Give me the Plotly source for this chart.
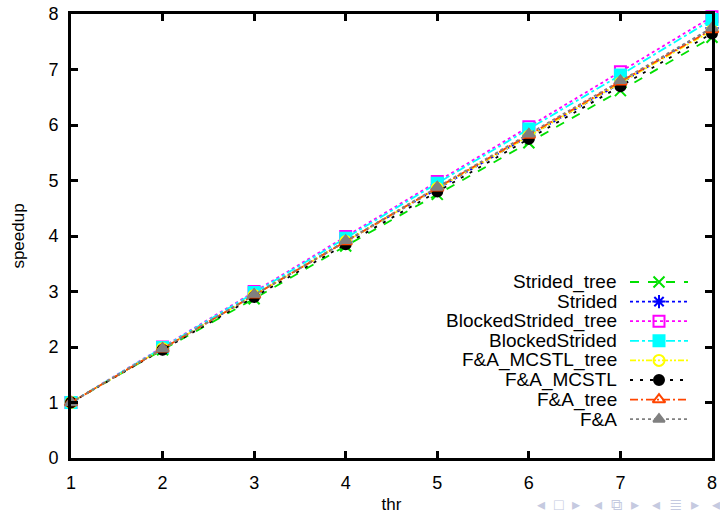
import plotly.graph_objects as go

thr = [1, 2, 3, 4, 5, 6, 7, 8]
names = ["Strided_tree", "Strided", "BlockedStrided_tree", "BlockedStrided",
         "F&A_MCSTL_tree", "F&A_MCSTL", "F&A_tree", "F&A"]
strided_tree = [1, 1.95, 2.87, 3.82, 4.75, 5.68, 6.62, 7.58]
strided = [1, 1.97, 2.93, 3.90, 4.85, 5.80, 6.75, 7.75]
blocked_tree = [1, 2.00, 3.00, 3.99, 4.98, 5.97, 6.96, 7.95]
blocked = [1, 1.99, 2.98, 3.96, 4.95, 5.93, 6.90, 7.90]
fa_mcstl_tree = [1, 1.97, 2.93, 3.90, 4.86, 5.80, 6.76, 7.70]
fa_mcstl = [1, 1.95, 2.90, 3.85, 4.80, 5.75, 6.70, 7.65]
fa_tree = [1, 1.97, 2.94, 3.90, 4.87, 5.82, 6.78, 7.72]
fa = [1, 1.97, 2.95, 3.92, 4.88, 5.84, 6.80, 7.75]
series = [strided_tree, strided, blocked_tree, blocked, fa_mcstl_tree, fa_mcstl, fa_tree, fa]

colors = ["#00e000", "#0000ff", "#ff00ff", "#00ffff", "#ffff00", "#000000", "#ff4500", "#808080"]
dashes = ["dash", "dot", "dot", "dashdot", "6px,2px,2px,2px,2px,2px", "3px,7px", "8px,3px,2px,3px", "dot"]
symbols = ["x-thin-open", "asterisk-open", "square-open", "square", "circle-open", "circle",
           "triangle-up-open", "triangle-up"]
msizes = [11, 11, 11, 11, 11, 10, 11, 10]

fig = go.Figure()
for n, s, c, d, sym, ms in zip(names, series, colors, dashes, symbols, msizes):
    fig.add_trace(go.Scatter(x=thr, y=s, name=n, mode="lines+markers",
                             line=dict(color=c, width=1.8, dash=d),
                             marker=dict(symbol=sym, size=ms, color=c,
                                         line=dict(color=c, width=2)),
                             showlegend=False, cliponaxis=False))

# manual legend (gnuplot style: text right, sample on the right)
L, R, T, B = 71, 712, 14, 458
W, H = R - L, B - T
def fx(px):
    return (px - L) / W
def fy(py):
    return (B - py) / H

row0, step = 282, 19.6
for i, (n, c, d, sym, ms) in enumerate(zip(names, colors, dashes, symbols, msizes)):
    py = row0 + i * step
    fig.add_trace(go.Scatter(x=[fx(630), fx(688)], y=[fy(py), fy(py)], mode="lines",
                             line=dict(color=c, width=1.8, dash=d), xaxis="x2", yaxis="y2",
                             showlegend=False, hoverinfo="skip"))
    fig.add_trace(go.Scatter(x=[fx(659)], y=[fy(py)], mode="markers",
                             marker=dict(symbol=sym, size=ms, color=c, line=dict(color=c, width=2)),
                             xaxis="x2", yaxis="y2", showlegend=False, hoverinfo="skip"))
    fig.add_annotation(text=n, xref="paper", yref="paper", x=fx(619), y=fy(py),
                       xanchor="right", yanchor="middle", showarrow=False,
                       font=dict(size=19, color="black"))

fig.add_annotation(text="◂  □  ▸   ◂  ⧉  ▸   ◂  ≣  ▸   ◂", xref="paper", yref="paper",
                   x=fx(722), y=fy(505), xanchor="right", yanchor="middle", showarrow=False,
                   font=dict(size=16, color="#c5cae0"))

axis_common = dict(showline=True, linecolor="black", linewidth=3, mirror="allticks",
                   ticks="inside", ticklen=7, tickwidth=3, tickcolor="black",
                   showgrid=False, zeroline=False, automargin=False,
                   tickfont=dict(size=18, color="black"))
fig.update_layout(
    width=720, height=514,
    margin=dict(l=L, r=720 - R, t=T, b=514 - B),
    paper_bgcolor="white", plot_bgcolor="white",
    font=dict(family="Liberation Sans, Arial, sans-serif", color="black"),
    xaxis=dict(range=[1, 8], tickvals=thr, ticklabelstandoff=6,
               title=dict(text="thr", font=dict(size=17), standoff=10),
               **axis_common),
    yaxis=dict(range=[0, 8], tickvals=list(range(0, 9)), ticklabelstandoff=6,
               title=dict(text="speedup", font=dict(size=17), standoff=20), **axis_common),
    xaxis2=dict(range=[0, 1], overlaying="x", anchor="y2", visible=False),
    yaxis2=dict(range=[0, 1], overlaying="y", anchor="x2", visible=False),
)
fig.write_html("out.html")
